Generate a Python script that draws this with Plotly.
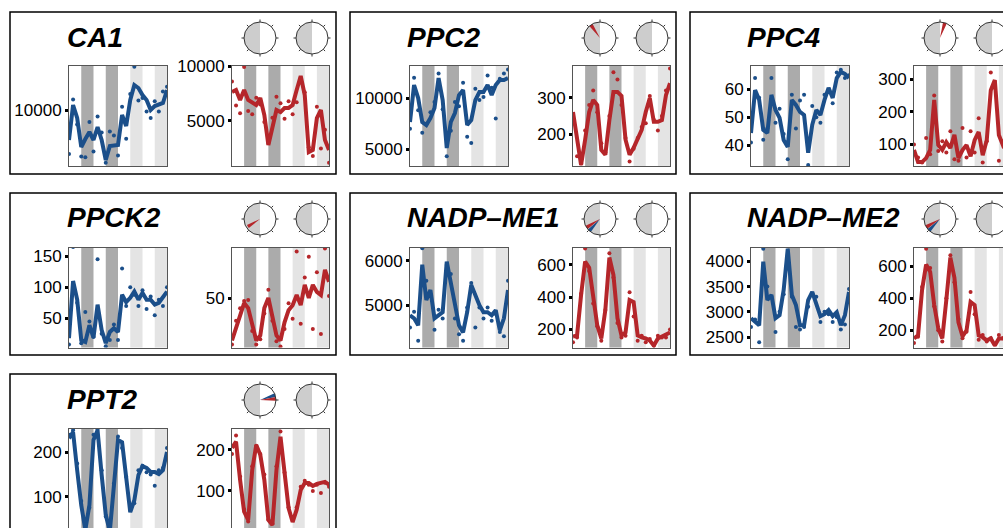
import math
import plotly.graph_objects as go

W, H = 1003, 528
BLUE = "#1B4F8A"
RED = "#B5262A"
DARK = "#ABABAB"
LIGHT = "#E4E4E4"
FONT = "Liberation Sans"

# sampling times (h)
hours = list(range(0, 97, 4))
# day/night stripes (start hour, 12 h long)
stripe_start = [12, 36, 60, 84]
stripe_kind = ["dark", "dark", "light", "light"]

genes = ["CA1", "PPC2", "PPC4", "PPCK2", "NADP–ME1", "NADP–ME2", "PPT2"]

ca1_blue = [6250, 10625, 9000, 5375, 6375, 7250, 6250, 7875, 6250, 3750, 5500, 5500, 5625, 9375, 8000, 11250, 13125, 12750, 11875, 11250, 10000, 10500, 10625, 10875, 12500]
ca1_blue_pts = [4500, 11300, 8200, 4200, 4100, 8500, 4800, 9200, 7200, 3400, 7300, 6800, 4300, 10400, 6400, 12000, 15400, 11200, 11500, 9800, 9000, 11100, 9800, 12300, 12900]
ca1_red = [7630, 7820, 6910, 7820, 6910, 6720, 6450, 7090, 5540, 2810, 4630, 6000, 5810, 6180, 6180, 6450, 7820, 9090, 7360, 2170, 2360, 5270, 6000, 3270, 2360]
ca1_red_pts = [8600, 6400, 5700, 9900, 5900, 5600, 7100, 6500, 4900, 3000, 5300, 7200, 6600, 5200, 6800, 5600, 6700, 8900, 7600, 2600, 1800, 6300, 2500, 4200, 1200]

ppc2_blue = [7650, 11270, 10000, 7650, 7350, 8040, 9020, 11960, 9800, 5100, 7650, 8530, 10290, 10780, 7350, 7840, 9800, 10590, 10590, 11270, 10290, 11270, 11760, 11760, 11960]
ppc2_blue_pts = [7000, 12000, 8800, 6600, 7400, 8600, 9600, 12400, 8900, 4300, 6800, 9600, 9200, 11500, 6200, 5600, 10900, 9800, 10100, 12200, 11000, 8000, 11900, 12400, 12800]
ppc2_red = [261, 185, 116, 185, 261, 294, 280, 157, 144, 239, 316, 316, 305, 185, 144, 163, 185, 212, 261, 299, 234, 234, 239, 307, 340]
ppc2_red_pts = [250, 140, 120, 210, 280, 320, 260, 175, 150, 250, 370, 350, 280, 190, 125, 160, 190, 220, 230, 305, 240, 210, 250, 320, 380]

ppc4_blue = [44.4, 59.7, 56.2, 45.5, 44.4, 58.0, 52.6, 49.8, 41.9, 39.4, 56.2, 54.4, 51.9, 50.8, 37.3, 47.3, 52.6, 50.8, 56.2, 60.5, 56.9, 64.0, 66.2, 65.5, 64.0]
ppc4_blue_pts = [41, 64, 57, 42, 46, 64, 48, 53, 44, 35, 58, 46, 56, 58, 33, 54, 50, 48, 58, 59, 55, 66, 67, 64, 65]
ppc4_red = [83, 46, 46, 58, 83, 236, 98, 83, 107, 89, 129, 58, 83, 98, 64, 113, 138, 67, 113, 266, 297, 129, 98, 113, 144]
ppc4_red_pts = [100, 60, 45, 120, 70, 250, 80, 110, 75, 140, 55, 50, 150, 60, 140, 75, 180, 45, 110, 320, 290, 50, 110, 120, 160]

ppck2_blue = [18, 110, 80, 15, 12, 39, 19, 72, 31, 10, 28, 34, 28, 88, 76, 83, 93, 80, 91, 80, 80, 72, 75, 83, 93]
ppck2_blue_pts = [8, 165, 75, 10, 60, 45, 20, 145, 25, 5, 15, 40, 15, 130, 70, 100, 88, 70, 95, 65, 85, 55, 80, 70, 100]
ppck2_red = [8.8, 20.6, 30.4, 45.1, 40.2, 23.5, 8.8, 13.7, 40.2, 50, 31.4, 13.7, 8.8, 26.5, 38.2, 43.1, 52.9, 43.1, 62.7, 50, 62.7, 55.9, 52.9, 77.4, 65.7]
ppck2_red_pts = [5, 28, 40, 47, 48, 18, 5, 10, 35, 58, 28, 8, 3, 20, 45, 30, 95, 25, 70, 90, 20, 75, 15, 98, 52]

me1_blue = [4774, 4706, 4547, 5909, 5115, 5342, 4706, 4774, 4842, 5977, 5523, 5001, 4547, 4388, 4842, 5455, 5228, 5001, 4842, 4842, 4774, 4888, 4434, 4706, 5342]
me1_blue_pts = [4500, 4850, 4200, 6280, 5550, 5200, 4450, 4900, 4700, 5900, 5700, 4700, 4350, 4200, 4950, 5500, 4500, 4950, 4700, 4950, 4650, 4800, 4400, 4300, 5550]
me1_red = [156, 162, 412, 619, 581, 381, 225, 144, 319, 644, 537, 269, 162, 181, 381, 369, 162, 150, 144, 131, 100, 144, 156, 169, 181]
me1_red_pts = [120, 150, 420, 700, 560, 360, 220, 130, 320, 670, 520, 240, 150, 160, 430, 280, 130, 160, 120, 140, 100, 160, 150, 150, 200]

me2_blue = [2874, 2794, 2734, 3994, 3234, 3334, 2874, 2934, 3434, 4250, 3334, 3134, 2734, 2734, 3234, 3394, 3134, 2914, 2954, 3034, 2914, 2994, 2734, 2934, 3394]
me2_blue_pts = [2700, 2850, 2400, 4250, 3500, 3300, 2600, 3000, 3350, 4300, 3300, 2700, 2650, 2700, 3100, 3350, 3300, 2800, 3000, 2950, 2800, 2900, 2650, 2750, 3450]
me2_red = [149, 168, 453, 611, 566, 358, 213, 149, 390, 655, 529, 250, 162, 200, 377, 358, 168, 156, 137, 149, 105, 149, 149, 168, 181]
me2_red_pts = [120, 160, 470, 710, 590, 350, 200, 130, 400, 670, 500, 270, 150, 190, 440, 300, 140, 170, 130, 150, 110, 170, 150, 160, 200]

ppt2_blue = [232, 246, 160, 81, 25, 81, 228, 250, 149, 59, 22, 138, 228, 223, 138, 65, 92, 149, 169, 165, 156, 156, 151, 160, 201]
ppt2_blue_pts = [240, 250, 175, 90, 30, 75, 240, 252, 160, 55, 25, 130, 236, 210, 145, 70, 85, 160, 170, 155, 150, 125, 160, 165, 210]
ppt2_red = [205, 220, 127, 49, 29, 151, 212, 188, 127, 29, 17, 151, 232, 151, 58, 24, 54, 102, 119, 119, 112, 117, 119, 122, 115]
ppt2_red_pts = [190, 235, 135, 55, 25, 160, 210, 190, 140, 30, 20, 160, 245, 145, 60, 35, 60, 110, 125, 115, 100, 115, 95, 120, 110]

# y ranges (left blue plot, right red plot)
yrange_blue = [[3000, 15500], [3340, 13140], [32.6, 68.3], [3, 164], [4050, 6295], [2294, 4274], [27, 253]]
yrange_red = [[900, 10000], [113, 387], [34, 340], [2, 99], [88, 706], [92, 718], [7, 251]]
yticks_blue = [[10000], [5000, 10000], [40, 50, 60], [50, 100, 150], [5000, 6000], [2500, 3000, 3500, 4000], [100, 200]]
yticks_red = [[5000, 10000], [200, 300], [100, 200, 300], [50], [200, 400, 600], [200, 400, 600], [100, 200]]

# phase wedges on the first clock (degrees clockwise from top)
wedge_gene = ["PPC2", "PPC4", "PPCK2", "NADP–ME1", "NADP–ME1", "NADP–ME2", "NADP–ME2", "PPT2", "PPT2"]
wedge_series = ["red", "red", "red", "blue", "red", "blue", "red", "blue", "red"]
wedge_angle = [325, 18, 238, 222, 238, 224, 240, 72, 86]
wedge_length = [1, 1, 0.9, 1, 1, 1, 1, 1, 1]

series = [
    (ca1_blue, ca1_blue_pts, ca1_red, ca1_red_pts),
    (ppc2_blue, ppc2_blue_pts, ppc2_red, ppc2_red_pts),
    (ppc4_blue, ppc4_blue_pts, ppc4_red, ppc4_red_pts),
    (ppck2_blue, ppck2_blue_pts, ppck2_red, ppck2_red_pts),
    (me1_blue, me1_blue_pts, me1_red, me1_red_pts),
    (me2_blue, me2_blue_pts, me2_red, me2_red_pts),
    (ppt2_blue, ppt2_blue_pts, ppt2_red, ppt2_red_pts),
]


def fx(x):
    return x / W


def fy(y):
    return 1 - y / H


fig = go.Figure()
shapes = []
annotations = []
layout = {}


def clock(cx, cy, R=16):
    pts = []
    for a in range(180, 361, 6):
        ra = math.radians(a)
        pts.append((cx + R * math.sin(ra), cy - R * math.cos(ra)))
    path = "M " + " L ".join(f"{fx(px):.5f},{fy(py):.5f}" for px, py in pts) + " Z"
    shapes.append(dict(type="path", xref="paper", yref="paper", path=path,
                       fillcolor="#CDCDCD", line=dict(width=0), layer="below"))
    shapes.append(dict(type="circle", xref="paper", yref="paper",
                       x0=fx(cx - R), x1=fx(cx + R), y0=fy(cy + R), y1=fy(cy - R),
                       line=dict(color="#333333", width=1), layer="above"))
    for a in range(0, 360, 45):
        ra = math.radians(a)
        shapes.append(dict(type="line", xref="paper", yref="paper",
                           x0=fx(cx + R * math.sin(ra)), y0=fy(cy - R * math.cos(ra)),
                           x1=fx(cx + (R + 2.5) * math.sin(ra)), y1=fy(cy - (R + 2.5) * math.cos(ra)),
                           line=dict(color="#333333", width=1), layer="above"))


polar_n = 0
for i, g in enumerate(genes):
    r, c = divmod(i, 3)
    bx0 = 10 + 340 * c
    by0 = 12 + 181 * r
    shapes.append(dict(type="rect", xref="paper", yref="paper",
                       x0=fx(bx0), x1=fx(bx0 + 326), y0=fy(by0 + 162), y1=fy(by0),
                       line=dict(color="black", width=1.5), layer="below"))
    annotations.append(dict(text=g, x=fx(bx0 + 55), y=fy(by0 + 25), xref="paper", yref="paper",
                            xanchor="left", yanchor="middle", showarrow=False,
                            font=dict(family=FONT, size=28, color="black", weight="bold", style="italic")))
    cy = by0 + 26
    clock(bx0 + 250, cy)
    clock(bx0 + 302, cy)

    # wedges
    idxs = [k for k, wg in enumerate(wedge_gene) if wg == g]
    if idxs:
        polar_n += 1
        pname = "polar" if polar_n == 1 else f"polar{polar_n}"
        cx = bx0 + 250
        R = 16
        layout[pname] = dict(domain=dict(x=[fx(cx - R), fx(cx + R)], y=[fy(cy + R), fy(cy - R)]),
                             bgcolor="rgba(0,0,0,0)",
                             angularaxis=dict(visible=False, rotation=90, direction="clockwise", showgrid=False),
                             radialaxis=dict(visible=False, range=[0, 1], showgrid=False))
        for k in idxs:
            fig.add_trace(go.Barpolar(r=[wedge_length[k]], theta=[wedge_angle[k]], width=[14],
                                      marker=dict(color=BLUE if wedge_series[k] == "blue" else RED,
                                                  line=dict(width=0)),
                                      subplot=pname, hoverinfo="skip"))

    blue, blue_pts, red, red_pts = series[i]
    for k in (0, 1):
        n = i * 2 + k + 1
        xl = (69 if k == 0 else 232) + 341 * c
        wdt = 98 if k == 0 else 97
        yt = 66 + 181.5 * r
        xr = min(xl + wdt, W)
        yb = min(yt + 100, H)
        xmax = 96 * (xr - xl) / wdt
        lo, hi = (yrange_blue if k == 0 else yrange_red)[i]
        lo_c = hi - (hi - lo) * (yb - yt) / 100
        cut_right = xl + wdt > W
        cut_bottom = yt + 100 > H
        xa = "xaxis" if n == 1 else f"xaxis{n}"
        ya = "yaxis" if n == 1 else f"yaxis{n}"
        xs = "x" if n == 1 else f"x{n}"
        ys = "y" if n == 1 else f"y{n}"
        tv = (yticks_blue if k == 0 else yticks_red)[i]
        layout[xa] = dict(domain=[fx(xl), fx(xr)], range=[0, xmax], anchor=ys, automargin=False,
                          showgrid=False, zeroline=False, showticklabels=False, ticks="",
                          showline=True, linecolor="#555555", linewidth=1,
                          mirror=not cut_bottom, side="top" if cut_bottom else "bottom")
        layout[ya] = dict(domain=[fy(yb), fy(yt)], range=[lo_c, hi], anchor=xs, automargin=False,
                          showgrid=False, zeroline=False,
                          tickvals=tv, ticktext=[str(v) for v in tv],
                          ticks="outside", ticklen=3, tickwidth=3, tickcolor="black",
                          tickfont=dict(family=FONT, size=17, color="black"),
                          showline=True, linecolor="#555555", linewidth=1,
                          mirror=not cut_right)
        for s0, kind in zip(stripe_start, stripe_kind):
            shapes.append(dict(type="rect", xref=xs, yref=f"{ys} domain",
                               x0=s0, x1=s0 + 12, y0=0, y1=1,
                               fillcolor=DARK if kind == "dark" else LIGHT,
                               line=dict(width=0), layer="below"))
        col = BLUE if k == 0 else RED
        line_vals = blue if k == 0 else red
        pts_vals = blue_pts if k == 0 else red_pts
        fig.add_trace(go.Scatter(x=hours, y=pts_vals, mode="markers", xaxis=xs, yaxis=ys,
                                 marker=dict(color=col, size=4), hoverinfo="skip"))
        fig.add_trace(go.Scatter(x=hours, y=line_vals, mode="lines", xaxis=xs, yaxis=ys,
                                 line=dict(color=col, width=4), hoverinfo="skip"))

fig.update_layout(width=W, height=H, margin=dict(l=0, r=0, t=0, b=0, autoexpand=False),
                  paper_bgcolor="white", plot_bgcolor="white", showlegend=False,
                  font=dict(family=FONT), shapes=shapes, annotations=annotations, **layout)
fig.write_html("out.html", config={"displayModeBar": False},
               post_script="document.body.style.margin='0';document.body.style.overflow='hidden';")
